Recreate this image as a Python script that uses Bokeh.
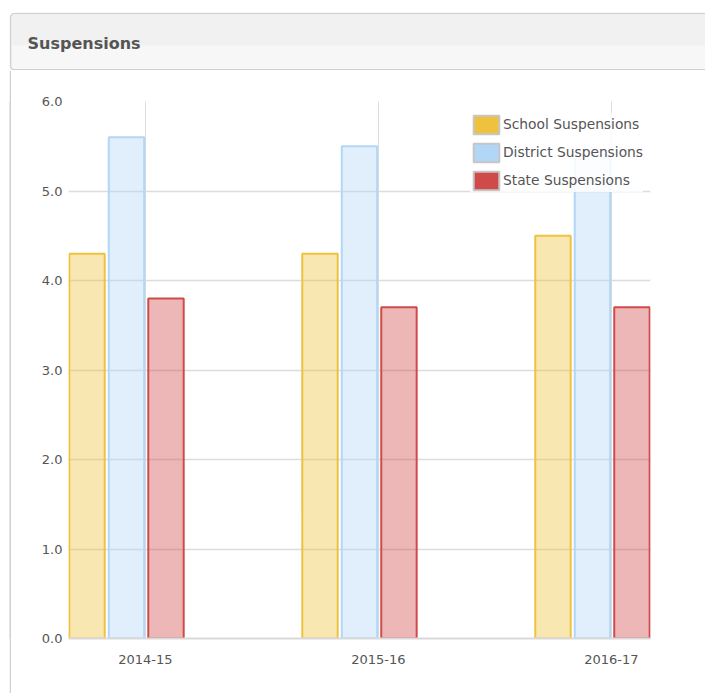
from bokeh.plotting import figure
from bokeh.layouts import column, row
from bokeh.models import (ColumnDataSource, Range1d, FixedTicker, NumeralTickFormatter,
                          BoxAnnotation, Label, Legend, LegendItem, Spacer)
from bokeh.transform import dodge
from bokeh.embed import file_html
from bokeh.resources import INLINE

# ---- data ----
years = ["2014-15", "2015-16", "2016-17"]
school = [4.3, 4.3, 4.5]
district = [5.6, 5.5, 5.4]
state = [3.8, 3.7, 3.7]
series_names = ["School Suspensions", "District Suspensions", "State Suspensions"]
y_ticks = [0, 1, 2, 3, 4, 5, 6]
title_text = "Suspensions"

FONT = "DejaVu Sans"
colors = ["#efc23e", "#b2d6f6", "#d14a4a"]
offsets = [-0.2506, -0.0811, 0.0884]
BORDER = "#cfcfcf"

# ---- header panel ----
header = figure(width=705, height=70, output_backend="svg", toolbar_location=None,
                x_axis_type=None, y_axis_type=None,
                x_range=Range1d(0, 696), y_range=Range1d(0, 58),
                min_border_left=9, min_border_right=0, min_border_top=12,
                min_border_bottom=0)
header.grid.visible = False
header.background_fill_color = "white"
header.border_fill_color = "white"
header.outline_line_color = None
header.add_layout(BoxAnnotation(left=1, right=760, bottom=0.75, top=57,
                                fill_color="#f7f7f7", fill_alpha=1.0,
                                line_color=BORDER, line_alpha=1.0, line_width=1.5,
                                border_radius=4))
header.add_layout(BoxAnnotation(left=2, right=760, bottom=25, top=56.2,
                                fill_color="#f1f1f1", fill_alpha=1.0, line_color=None,
                                border_radius=3))
header.add_layout(Label(x=18, y=27.5, x_units="screen", y_units="screen",
                        text=title_text, text_font=FONT, text_font_style="bold",
                        text_font_size="16px", text_color="#555555",
                        text_baseline="middle"))

# ---- left panel border ----
edge = figure(width=2, height=623, output_backend="svg", toolbar_location=None,
              x_axis_type=None, y_axis_type=None,
              min_border_left=0, min_border_right=0, min_border_top=0,
              min_border_bottom=0)
edge.grid.visible = False
edge.background_fill_color = BORDER
edge.border_fill_color = BORDER
edge.outline_line_color = None

# ---- chart ----
src = ColumnDataSource(dict(x=list(range(len(years))), school=school,
                            district=district, state=state))

p = figure(width=694, height=623, output_backend="svg", toolbar_location=None,
           x_range=Range1d(-0.33, 2.168), y_range=Range1d(0, 6),
           min_border_left=57, min_border_right=55, min_border_top=31,
           min_border_bottom=55)
p.outline_line_color = None
p.background_fill_color = "white"
p.border_fill_color = "white"

cols = ["school", "district", "state"]
for col, off, color in zip(cols, offsets, colors):
    p.vbar(x=dodge("x", off), top=col, bottom=0, width=0.152, source=src,
           fill_color=color, fill_alpha=0.4, line_color=color, line_width=2)

# legend swatches: hidden renderers (solid fill, grey border)
items = []
for name, col, color in zip(series_names, cols, colors):
    r = p.vbar(x="x", top=col, width=0.1, source=src, fill_color=color,
               line_color="#c6c6c6", line_width=2, visible=False)
    items.append(LegendItem(label=name, renderers=[r]))
legend = Legend(items=items, location=(402, 446.5), label_text_font=FONT,
                label_text_font_size="13.8px", label_text_color="#555555",
                glyph_width=32, glyph_height=23, label_height=23, label_standoff=1,
                spacing=5, padding=0, margin=0, border_line_color=None,
                background_fill_color="white", background_fill_alpha=0.85,
                inactive_fill_alpha=0.0)
p.add_layout(legend)

p.yaxis.ticker = FixedTicker(ticks=y_ticks)
p.yaxis.formatter = NumeralTickFormatter(format="0.0")
p.yaxis.axis_line_color = None
p.yaxis.major_tick_line_color = None
p.yaxis.major_tick_out = 0
p.yaxis.major_tick_in = 0
p.yaxis.minor_tick_line_color = None
p.yaxis.major_label_standoff = 6
p.yaxis.major_label_text_font = FONT
p.yaxis.major_label_text_font_size = "13px"
p.yaxis.major_label_text_color = "#555555"

p.xaxis.ticker = FixedTicker(ticks=list(range(len(years))))
p.xaxis.major_label_overrides = {i: y for i, y in enumerate(years)}
p.xaxis.axis_line_color = "#d9d9d9"
p.xaxis.axis_line_width = 2
p.xaxis.major_tick_line_color = None
p.xaxis.major_tick_out = 0
p.xaxis.major_tick_in = 0
p.xaxis.minor_tick_line_color = None
p.xaxis.major_label_standoff = 16
p.xaxis.major_label_text_font = FONT
p.xaxis.major_label_text_font_size = "13px"
p.xaxis.major_label_text_color = "#555555"

p.xgrid.grid_line_color = "#dcdcdc"
p.xgrid.grid_line_width = 1
p.ygrid.grid_line_color = "#dcdcdc"
p.ygrid.grid_line_width = 1.5

layout = column(header, row(Spacer(width=9, height=623), edge, p, spacing=0), spacing=0)

open("out.html", "w").write(file_html(layout, INLINE))
